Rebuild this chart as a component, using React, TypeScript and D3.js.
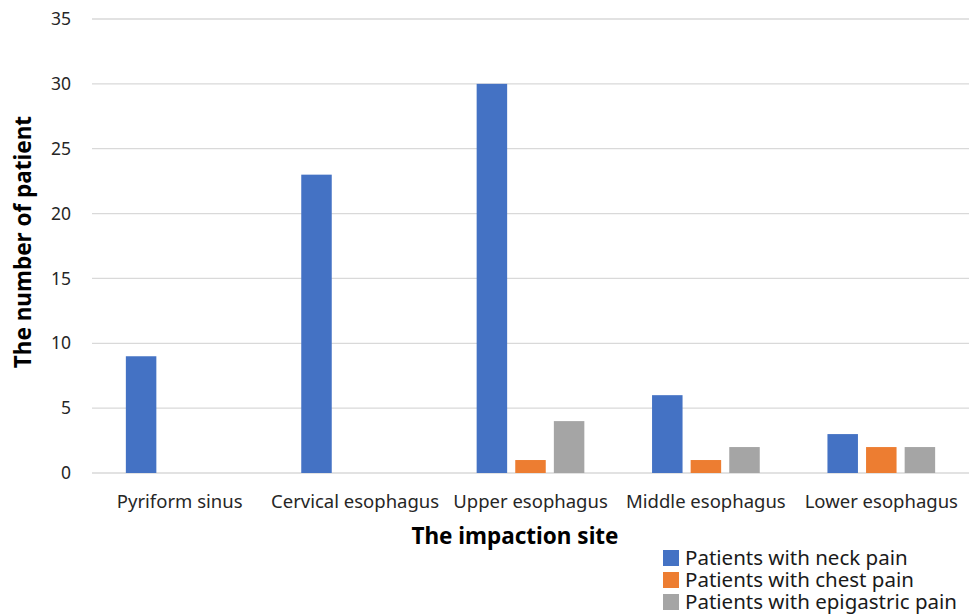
import React, { useEffect, useRef } from "react";
import * as d3 from "d3";

const categories = [
  "Pyriform sinus",
  "Cervical esophagus",
  "Upper esophagus",
  "Middle esophagus",
  "Lower esophagus",
];
const seriesNames = [
  "Patients with neck pain",
  "Patients with chest pain",
  "Patients with epigastric pain",
];
const neckPain = [9, 23, 30, 6, 3];
const chestPain = [0, 0, 1, 1, 2];
const epigastricPain = [0, 0, 4, 2, 2];
const yTicks = [0, 5, 10, 15, 20, 25, 30, 35];
const colors = ["#4472c4", "#ed7d31", "#a5a5a5"];

const App: React.FC = () => {
  const ref = useRef<SVGSVGElement | null>(null);

  useEffect(() => {
    const width = 969;
    const height = 614;
    const left = 92;
    const right = 969;
    const top = 19;
    const bottom = 473;
    const font = "'Noto Sans', 'Open Sans', sans-serif";

    const svg = d3.select(ref.current);
    svg.selectAll("*").remove();
    svg.attr("width", width).attr("height", height);

    const y = d3.scaleLinear().domain([0, 35]).range([bottom, top]);
    const x0 = d3.scaleBand<string>().domain(categories).range([left, right]);
    const x1 = d3
      .scaleBand<string>()
      .domain(seriesNames)
      .range([0, x0.bandwidth()])
      .paddingInner(0.21)
      .paddingOuter(0.877);

    const series = [neckPain, chestPain, epigastricPain];

    // gridlines
    svg
      .append("g")
      .selectAll("line")
      .data(yTicks)
      .enter()
      .append("line")
      .attr("x1", left)
      .attr("x2", right)
      .attr("y1", (d) => y(d))
      .attr("y2", (d) => y(d))
      .attr("stroke", "#d9d9d9")
      .attr("stroke-width", 1.3);

    // y tick labels
    svg
      .append("g")
      .selectAll("text")
      .data(yTicks)
      .enter()
      .append("text")
      .attr("x", 71)
      .attr("y", (d) => y(d))
      .attr("dy", "0.35em")
      .attr("text-anchor", "end")
      .style("font-family", font)
      .style("font-size", "17.5px")
      .attr("fill", "#262626")
      .text((d) => d);

    // bars
    const groups = svg
      .append("g")
      .selectAll("g")
      .data(categories)
      .enter()
      .append("g")
      .attr("transform", (d) => `translate(${x0(d)},0)`);

    groups
      .selectAll("rect")
      .data((_, i) =>
        seriesNames.map((s, j) => ({ s, j, v: series[j][i] }))
      )
      .enter()
      .filter((d) => d.v > 0)
      .append("rect")
      .attr("x", (d) => x1(d.s)!)
      .attr("width", x1.bandwidth())
      .attr("y", (d) => y(d.v))
      .attr("height", (d) => y(0) - y(d.v))
      .attr("fill", (d) => colors[d.j]);

    // category labels
    svg
      .append("g")
      .selectAll("text")
      .data(categories)
      .enter()
      .append("text")
      .attr("x", (d) => x0(d)! + x0.bandwidth() / 2)
      .attr("y", 502)
      .attr("dy", "0.35em")
      .attr("text-anchor", "middle")
      .style("font-family", font)
      .style("font-size", "18.5px")
      .attr("fill", "#262626")
      .text((d) => d);

    // axis titles
    svg
      .append("text")
      .attr("x", 515)
      .attr("y", 536)
      .attr("dy", "0.35em")
      .attr("text-anchor", "middle")
      .style("font-family", font)
      .style("font-size", "22.5px")
      .style("font-weight", "bold")
      .attr("fill", "#000")
      .text("The impaction site");

    svg
      .append("text")
      .attr("transform", `translate(23,242) rotate(-90)`)
      .attr("dy", "0.35em")
      .attr("text-anchor", "middle")
      .style("font-family", font)
      .style("font-size", "22.5px")
      .style("font-weight", "bold")
      .attr("fill", "#000")
      .text("The number of patient");

    // legend
    const legend = svg
      .append("g")
      .selectAll("g")
      .data(seriesNames)
      .enter()
      .append("g")
      .attr("transform", (_, i) => `translate(663,${558 + i * 22})`);

    legend
      .append("rect")
      .attr("x", 0)
      .attr("y", -8)
      .attr("width", 16)
      .attr("height", 16)
      .attr("fill", (_, i) => colors[i]);

    legend
      .append("text")
      .attr("x", 22)
      .attr("y", 0)
      .attr("dy", "0.35em")
      .style("font-family", font)
      .style("font-size", "20.5px")
      .attr("fill", "#1a1a1a")
      .text((d) => d);
  }, []);

  return <svg ref={ref} style={{ position: "absolute", left: 0, top: 0 }} />;
};

export default App;
